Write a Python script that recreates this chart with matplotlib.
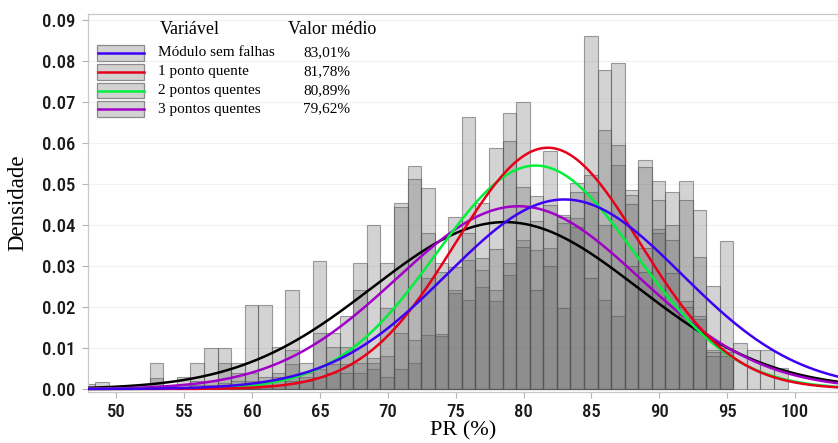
import numpy as np
import matplotlib
matplotlib.use("Agg")
import matplotlib.pyplot as plt
from matplotlib import font_manager
from matplotlib.patches import Rectangle
from matplotlib.lines import Line2D

# ---------------------------------------------------------------- data
# histogram bins: left edges (PR, %) with unit width
bin_left = np.arange(52) + 47.45

dens_sem_falhas = [
    0, 0, 0, 0, 0, 0, 0, 0, .0010, .0010, .0015, .0020, .0020, .0020, .0030,
    .0060, .0030, .0050, .0060, .0060, .0063, .0063, .0080,
    .0050, .0063, .0132, .0130, .0235, .0217, .0250, .0215, .0278,
    .0363, .0340, .0345, .0405, .0418, .0481, .0400, .0546,
    .0486, .0559, .0507, .0480, .0507, .0437, .0251, .0362, .0111, .0095, .0096, .0052]

dens_1_ponto = [
    0, 0, 0, 0, 0, 0, 0, 0, 0, 0, 0, .0005, .0010, .0010, .0010,
    .0020, .0020, .0030, .0040, .0040, .0040, .0050, .0030,
    .0136, .0120, .0270, .0135, .0241, .0315, .0290, .0241, .0307,
    .0701, .0470, .0580, .0424, .0503, .0861, .0778, .0796,
    .0474, .0542, .0461, .0400, .0460, .0323, .0095, .0100, 0, 0, 0, 0]

dens_2_pontos = [
    0, .0006, 0, 0, 0, .0028, 0, .0010, .0020, .0020, .0064, .0040, .0040, .0030, .0040,
    .0095, .0040, .0137, .0103, .0103, .0241, .0075, .0197,
    .0454, .0544, .0491, .0308, .0420, .0664, .0453, .0589, .0674,
    .0493, .0410, .0449, .0420, .0481, .0522, .0632, .0595,
    .0452, .0345, .0391, .0363, .0215, .0178, .0090, .0090, 0, 0, 0, 0]

dens_3_pontos = [
    .0012, .0018, 0, 0, 0, .0064, .0010, .0030, .0064, .0101, .0101, .0064, .0205, .0205, .0103,
    .0241, .0064, .0313, .0136, .0178, .0308, .0400, .0308,
    .0445, .0511, .0380, .0286, .0298, .0380, .0320, .0341, .0605,
    .0347, .0241, .0300, .0197, .0396, .0270, .0217, .0177,
    .0300, .0285, .0380, .0283, .0200, .0170, .0080, .0080, 0, 0, 0, 0]

series_labels = ["Módulo sem falhas", "1 ponto quente", "2 pontos quentes", "3 pontos quentes"]
series_means = [83.01, 81.78, 80.89, 79.62]
series_sds = [8.63, 6.78, 7.32, 8.95]
series_colors = ["#3d00f5", "#e8001a", "#00f03c", "#a100c8"]
mean_labels = ["83,01%", "81,78%", "80,89%", "79,62%"]

# overall normal fit (all modules together)
overall_mean = 78.63
overall_sd = 9.8

x_ticks = [50, 55, 60, 65, 70, 75, 80, 85, 90, 95, 100]
y_ticks = [0.00, 0.01, 0.02, 0.03, 0.04, 0.05, 0.06, 0.07, 0.08, 0.09]

# ---------------------------------------------------------------- fonts
available = {f.name for f in font_manager.fontManager.ttflist}
tick_font = "DejaVu Sans"
for cand in ("Roboto Condensed", "Asap Condensed", "Archivo Narrow", "PT Sans Narrow"):
    if cand in available:
        tick_font = cand
        break
serif = ["Liberation Serif", "DejaVu Serif"]


def normal_pdf(x, mu, sd):
    return np.exp(-0.5 * ((x - mu) / sd) ** 2) / (sd * np.sqrt(2 * np.pi))


W, H = 838, 443
fig = plt.figure(figsize=(W / 100, H / 100), dpi=100)
ax = fig.add_axes([88 / W, (H - 392) / H, 1 - 88 / W, (392 - 14) / H])

face = (0.40, 0.40, 0.40, 0.283)
edge = (0.33, 0.33, 0.33, 0.55)
for dens in (dens_sem_falhas, dens_1_ponto, dens_2_pontos, dens_3_pontos):
    d = np.asarray(dens, dtype=float)
    m = d > 0
    ax.bar(bin_left[m], d[m], width=1.0, align="edge",
           facecolor=face, edgecolor=edge, linewidth=0.8, zorder=2)

xs = np.linspace(47.0, 104.0, 600)
ax.plot(xs, normal_pdf(xs, overall_mean, overall_sd), color="black", lw=1.8, zorder=3)
for mu, sd, col in zip(series_means[::-1], series_sds[::-1], series_colors[::-1]):
    ax.plot(xs, normal_pdf(xs, mu, sd), color=col, lw=1.8, zorder=4)

ax.set_xlim(47.9, 103.17)
ax.set_ylim(-0.00073, 0.09146)
ax.set_xticks(x_ticks)
ax.set_yticks(y_ticks)
ax.set_xticklabels([str(v) for v in x_ticks])
ax.set_yticklabels([f"{v:.2f}" for v in y_ticks])
for lab in ax.get_xticklabels() + ax.get_yticklabels():
    lab.set_fontfamily(tick_font)
    lab.set_fontsize(13.5)
    lab.set_fontweight("medium")
    lab.set_color("#1a1a1a")
ax.tick_params(axis="both", length=4, width=0.8, color="#b5b5b5", pad=5)
ax.tick_params(axis="x", pad=4)
ax.grid(axis="y", color="#f1f1f1", lw=0.8, zorder=0)
ax.set_axisbelow(True)
for side in ("left", "top", "bottom"):
    ax.spines[side].set_color("#c8c8c8")
    ax.spines[side].set_linewidth(0.9)
ax.spines["right"].set_visible(False)

ax.set_xlabel("PR (%)", fontfamily=serif, fontsize=16, labelpad=0)
ax.set_ylabel("Densidade", fontfamily=serif, fontsize=16.5, labelpad=10)

# ---------------------------------------------------------------- legend block
def fx(px):
    return px / W


def fy(py):
    return 1 - py / H


fig.text(fx(160), fy(30), "Variável", fontfamily=serif, fontsize=13, va="center", ha="left")
fig.text(fx(288), fy(30), "Valor médio", fontfamily=serif, fontsize=13, va="center", ha="left")
row_y = [53, 72, 90.5, 109]
for yy, lab, val, col in zip(row_y, series_labels, mean_labels, series_colors):
    fig.add_artist(Rectangle((fx(97), fy(yy + 7.5)), fx(47), 15 / H, transform=fig.transFigure,
                             facecolor="#d2d2d2", edgecolor="#8a8a8a", lw=0.9))
    fig.add_artist(Line2D([fx(97.5), fx(143.5)], [fy(yy), fy(yy)], transform=fig.transFigure,
                          color=col, lw=1.8))
    fig.text(fx(158), fy(yy), lab, fontfamily=serif, fontsize=11, va="center", ha="left")
    fig.text(fx(303), fy(yy), val, fontfamily=serif, fontsize=11, va="center", ha="left")

fig.savefig("out.png", dpi=100)
